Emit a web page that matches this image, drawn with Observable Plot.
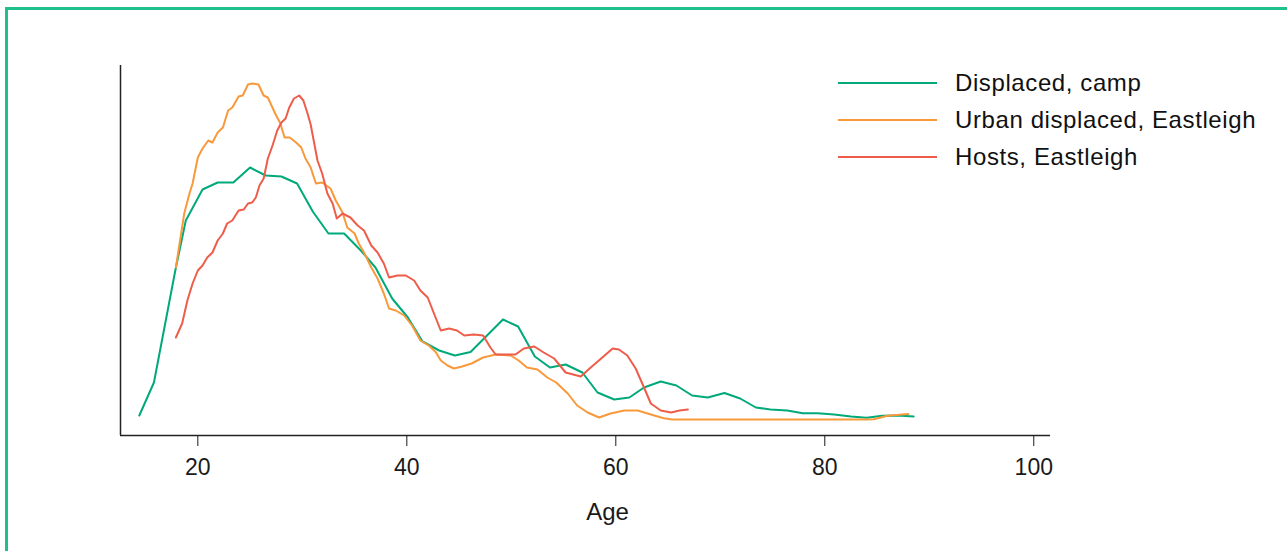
<!DOCTYPE html>
<html><head><meta charset="utf-8">
<script src="https://cdn.jsdelivr.net/npm/d3@7"></script>
<script src="https://cdn.jsdelivr.net/npm/@observablehq/plot@0.6"></script>
<style>
body{margin:0;background:#fff;}
#wrap{position:relative;width:1287px;height:551px;overflow:hidden;font-family:"Liberation Sans",Arial,sans-serif;}
#border{position:absolute;left:5px;top:7px;width:1400px;height:700px;border-left:3px solid #1fc08e;border-top:3px solid #1fc08e;}
#legend{position:absolute;left:838px;top:64px;}
.item{display:flex;align-items:center;height:37.3px;}
.sw{width:99px;height:2px;margin-right:18px;}
.lab{font-size:24px;color:#111;letter-spacing:0.6px;white-space:nowrap;}
#chart svg{position:absolute;left:0;top:0;}
</style></head><body>
<div id="wrap"><div id="chart"></div><div id="border"></div><div id="legend"></div></div>
<script>
// Series
const seriesNames = ["Displaced, camp", "Urban displaced, Eastleigh", "Hosts, Eastleigh"];
const seriesColors = ["#00a97a", "#f8993b", "#ee5d4a"];

// Displaced, camp (relative density, arbitrary units)
const campAge = [14.4,15.8,17.9,18.85,20.45,21.9,23.4,25.0,26.5,28.0,29.5,31.0,32.5,34.0,35.6,37.0,38.6,40.1,41.5,43.1,44.6,46.1,49.2,50.65,52.25,53.7,55.2,56.8,58.25,59.85,61.3,62.7,64.3,65.8,67.3,68.8,70.4,71.9,73.4,74.8,76.4,77.9,79.3,80.9,82.5,84.0,85.5,87.0,88.5];
const campDensity = [4,37,152,199,230,237,237,252,244,243,236,208,186,186,169,152,121,102,78,69,64,67.5,100,93,63,52,55,47,27,20,22,32,38,34,24,22,26.5,21,12,10,9,6.3,6.3,5,3,1.7,3.7,4,3];

// Urban displaced, Eastleigh
const urbanAge = [17.9,18.7,19.2,19.5,20.0,20.45,21.0,21.4,21.9,22.4,22.9,23.3,23.9,24.3,24.8,25.2,25.8,26.3,26.7,27.4,27.9,28.3,28.8,29.4,29.9,30.3,30.8,31.3,31.9,32.7,33.2,33.85,34.3,35.0,35.4,35.9,36.6,37.2,37.8,38.3,38.95,39.75,40.5,41.3,42.1,42.8,43.25,43.9,44.5,45.3,46.2,47.3,48.5,49.95,50.7,51.5,52.5,53.45,54.3,55.4,56.3,57.3,58.4,59.5,60.8,62.1,63.35,64.6,65.4,70,75,80,84.0,84.7,86.0,88.0];
const urbanDensity = [152,206,226,236,262,271,279,277,287,292,309,312,323,324,335,336,335,324,322,306,296,282,282,277,272,261,252,236,237,231,219,207,192,186,176,167,152,141,126,111,109,104,94,79,74,67,59,54,51,53,56,62,65,64,59,52,50,42,37,26,14,7,2,6,9,9,5,1.3,0,0,0,0,0,0.3,3.7,5.6];

// Hosts, Eastleigh
const hostAge = [17.9,18.5,19.0,19.5,20.0,20.45,20.9,21.4,21.9,22.4,22.8,23.3,23.9,24.4,24.8,25.2,25.55,25.9,26.3,26.7,27.15,27.6,28.0,28.4,28.75,29.2,29.7,30.1,30.5,30.8,31.45,31.9,32.4,32.9,33.3,33.85,34.6,35.3,35.9,36.6,37.2,37.8,38.3,39.1,39.9,40.7,41.3,42.0,42.6,43.25,44.05,44.8,45.5,46.4,47.3,48.0,48.5,49.6,50.4,51.2,52.2,53.1,54.1,55.2,56.65,57.6,58.6,59.7,60.3,61.1,61.9,62.7,63.35,64.3,65.3,66.1,66.9];
const hostDensity = [82,96,119,136,149,154,162,167,179,186,196,199,209,210,216,217,222,234,241,261,274,289,297,301,312,321,324,319,306,295,259,246,226,216,201,206,202,194,189,174,167,156,142,144,144,139,129,122,106,89,91,89,84,85,84,72,65,65,65,71,73,67,61,47,43,52,61,71,70,64,51,32,16,9,7,9,10];

// Axes
const xDomain = [12.6, 101.6];
const yDomain = [-16, 354];
const xTicks = [20, 40, 60, 80, 100];
const xLabel = "Age";

const rows = [];
campAge.forEach((a, i) => rows.push({series: seriesNames[0], age: a, density: campDensity[i]}));
urbanAge.forEach((a, i) => rows.push({series: seriesNames[1], age: a, density: urbanDensity[i]}));
hostAge.forEach((a, i) => rows.push({series: seriesNames[2], age: a, density: hostDensity[i]}));

const chart = Plot.plot({
  width: 1287, height: 551,
  marginLeft: 120, marginRight: 237, marginTop: 65, marginBottom: 116,
  style: {fontFamily: '"Liberation Sans", Arial, sans-serif', fontSize: "23px", color: "#1a1a1a", background: "transparent"},
  x: {domain: xDomain, ticks: xTicks, tickSize: 11, tickPadding: 12, label: null, tickFormat: d => String(d)},
  y: {domain: yDomain, axis: null},
  color: {domain: seriesNames, range: seriesColors},
  marks: [
    Plot.ruleX([xDomain[0]], {stroke: "#222", strokeWidth: 1.5}),
    Plot.ruleY([yDomain[0]], {stroke: "#222", strokeWidth: 1.5}),
    Plot.lineY(rows, {x: "age", y: "density", z: "series", stroke: "series", strokeWidth: 2}),
    Plot.text([xLabel], {frameAnchor: "bottom", dx: 22, dy: 84, fontSize: 24, fill: "#1a1a1a"})
  ]
});
document.getElementById("chart").appendChild(chart);

const legend = document.getElementById("legend");
seriesNames.forEach((name, i) => {
  const item = document.createElement("div");
  item.className = "item";
  const sw = document.createElement("div");
  sw.className = "sw";
  sw.style.background = seriesColors[i];
  const lab = document.createElement("span");
  lab.className = "lab";
  lab.textContent = name;
  item.appendChild(sw); item.appendChild(lab);
  legend.appendChild(item);
});
</script>
</body></html>
